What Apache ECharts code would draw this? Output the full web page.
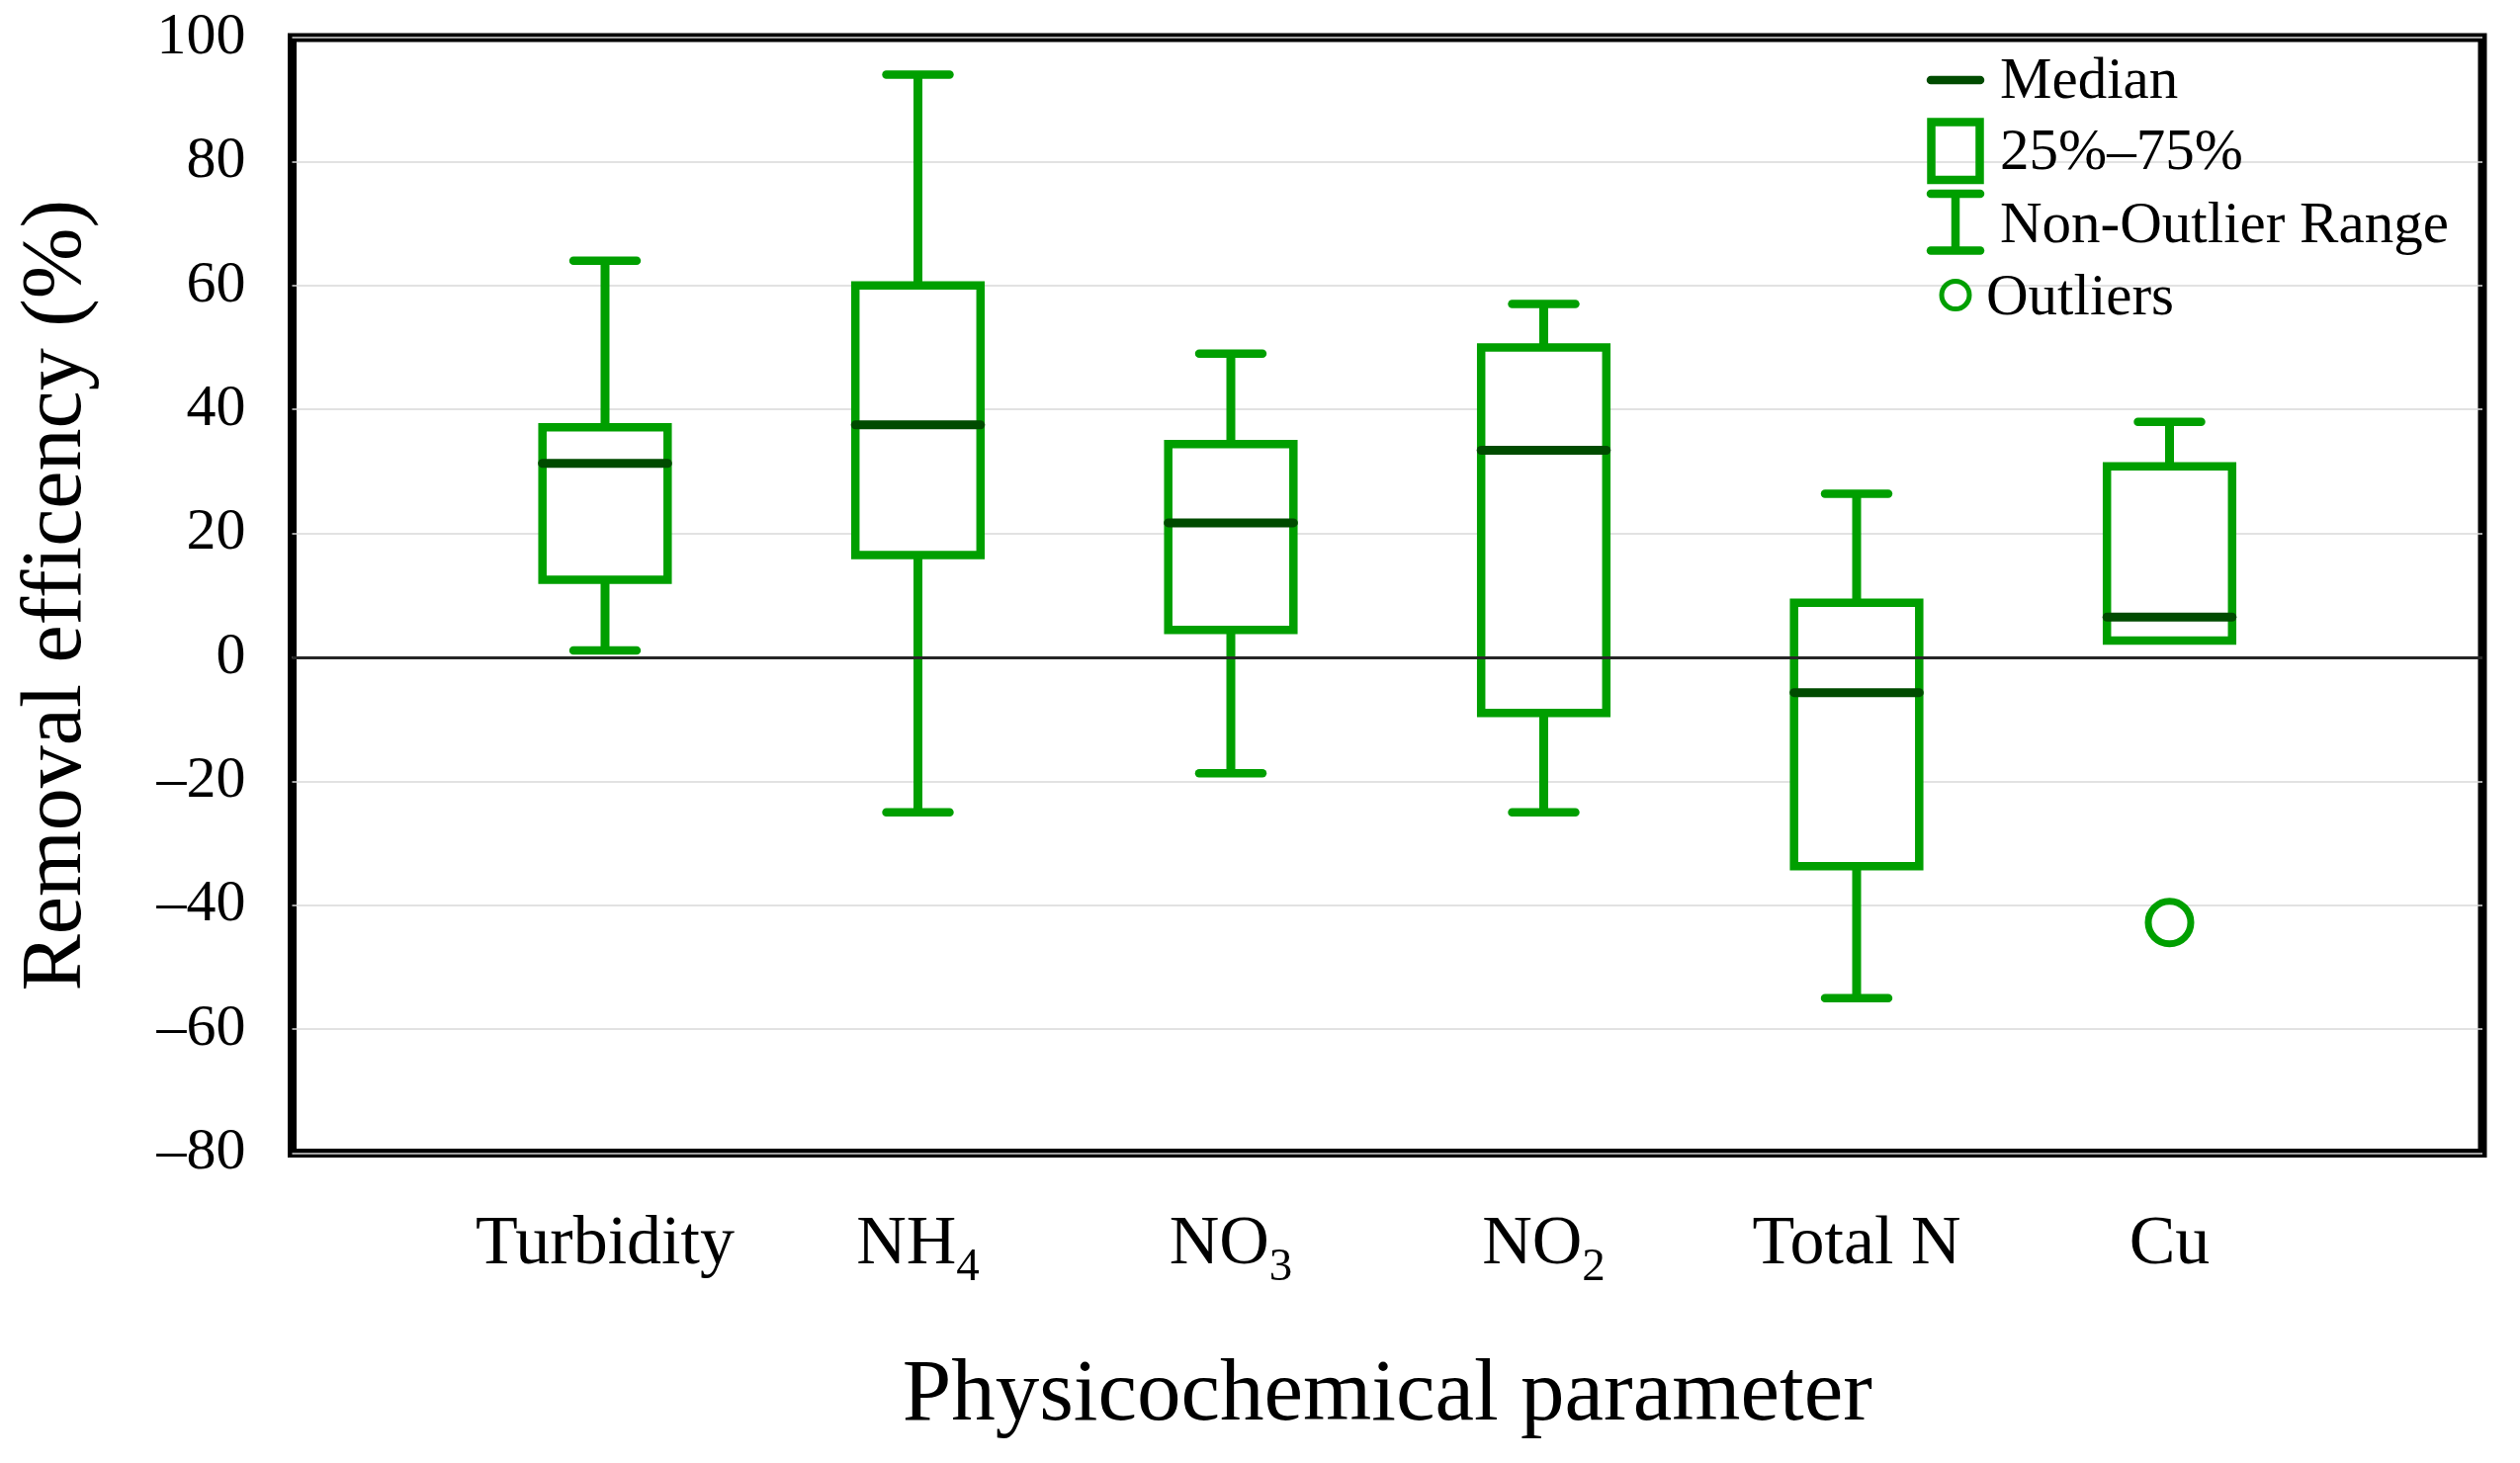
<!DOCTYPE html>
<html>
<head>
<meta charset="utf-8">
<script src="https://cdn.jsdelivr.net/npm/echarts@6/dist/echarts.min.js"></script>
<style>
html,body{margin:0;padding:0;background:#fff;}
#chart{width:2549px;height:1480px;}
</style>
</head>
<body>
<div id="chart"></div>
<script>
// ---- data ----
const categories = ['Turbidity', 'NH4', 'NO3', 'NO2', 'Total N', 'Cu'];
const whiskerLow  = [1.1, -25.0, -18.7, -25.0, -55.0, 2.7];
const q1          = [12.5, 16.5, 4.4, -9.0, -33.7, 2.7];
const median      = [31.3, 37.5, 21.7, 33.4, -5.7, 6.5];
const q3          = [37.1, 60.0, 34.4, 50.0, 8.8, 30.8];
const whiskerHigh = [64.0, 94.0, 49.0, 57.0, 26.4, 38.0];
const outlierCategories = ['Cu'];
const outlierValues = [-42.8];
const yTicks = { min: -80, max: 100, interval: 20 };

const GREEN = '#009f00';
const DARK = '#004b00';
const FONT = 'Liberation Serif';

const axisCats = [''].concat(categories, ['']);
const boxData = categories.map((c, i) => [i + 1, whiskerLow[i], q1[i], median[i], q3[i], whiskerHigh[i]]);
const outData = outlierCategories.map((c, i) => [categories.indexOf(c) + 1, outlierValues[i]]);

function renderBox(params, api) {
  const i = api.value(0);
  const x = api.coord([i, 0])[0];
  const band = api.coord([i + 1, 0])[0] - x;
  const hw = band * 0.2, cw = band * 0.101;
  const yLow = api.coord([i, api.value(1)])[1];
  const yQ1 = api.coord([i, api.value(2)])[1];
  const yMed = api.coord([i, api.value(3)])[1];
  const yQ3 = api.coord([i, api.value(4)])[1];
  const yHigh = api.coord([i, api.value(5)])[1];
  const wStyle = { stroke: GREEN, lineWidth: 9, lineCap: 'butt' };
  const capStyle = { stroke: GREEN, lineWidth: 8.5, lineCap: 'round' };
  const children = [];
  if (api.value(5) > api.value(4)) {
    children.push({ type: 'line', shape: { x1: x, y1: yQ3, x2: x, y2: yHigh }, style: wStyle });
    children.push({ type: 'line', shape: { x1: x - cw, y1: yHigh, x2: x + cw, y2: yHigh }, style: capStyle });
  }
  if (api.value(1) < api.value(2)) {
    children.push({ type: 'line', shape: { x1: x, y1: yQ1, x2: x, y2: yLow }, style: wStyle });
    children.push({ type: 'line', shape: { x1: x - cw, y1: yLow, x2: x + cw, y2: yLow }, style: capStyle });
  }
  children.push({ type: 'rect', shape: { x: x - hw, y: yQ3, width: 2 * hw, height: yQ1 - yQ3 },
    style: { fill: '#fff', stroke: GREEN, lineWidth: 8.5, lineJoin: 'miter' } });
  children.push({ type: 'line', shape: { x1: x - hw, y1: yMed, x2: x + hw, y2: yMed },
    style: { stroke: DARK, lineWidth: 9, lineCap: 'round' } });
  return { type: 'group', children: children };
}

const chart = echarts.init(document.getElementById('chart'), null, { renderer: 'canvas' });

const legendX = 1978;
const legendTextX = 2023;
const LFONT = '59px "Liberation Serif"';
const option = {
  backgroundColor: '#fff',
  animation: false,
  textStyle: { fontFamily: FONT, color: '#000' },
  grid: {
    left: 295.5, right: 38, top: 38, bottom: 313.5,
    show: true, borderColor: '#000', borderWidth: 9, backgroundColor: 'transparent',
    containLabel: false
  },
  xAxis: {
    type: 'category',
    data: axisCats,
    boundaryGap: false,
    axisLine: { show: false },
    axisTick: { show: false },
    splitLine: { show: false },
    axisLabel: {
      interval: 0,
      margin: 58,
      formatter: function (v) {
        if (!v) return '';
        const m = v.match(/^([A-Za-z]+?)(\d)$/);
        if (m) return '{a|' + m[1] + '}{s|' + m[2] + '}';
        return '{a|' + v + '}';
      },
      rich: {
        a: { fontFamily: FONT, fontSize: 70, color: '#000', lineHeight: 70, verticalAlign: 'middle' },
        s: { fontFamily: FONT, fontSize: 47, color: '#000', lineHeight: 1, height: 23, verticalAlign: 'bottom' }
      }
    },
    name: 'Physicochemical parameter',
    nameLocation: 'middle',
    nameGap: 202,
    nameMoveOverlap: false,
    nameTextStyle: { fontFamily: FONT, fontSize: 89, color: '#000', verticalAlign: 'top' }
  },
  yAxis: {
    type: 'value',
    min: yTicks.min, max: yTicks.max, interval: yTicks.interval,
    axisLine: { show: false },
    axisTick: { show: false },
    splitLine: { show: true, lineStyle: { color: '#d9d9d9', width: 1.5 } },
    axisLabel: {
      margin: 47,
      fontFamily: FONT, fontSize: 60, color: '#000',
      formatter: function (v) { return String(v).replace('-', '\u2013'); }
    },
    name: 'Removal efficency (%)',
    nameLocation: 'middle',
    nameRotate: 90,
    nameGap: 194,
    nameMoveOverlap: false,
    nameTextStyle: { fontFamily: FONT, fontSize: 86, color: '#000' }
  },
  series: [
    {
      type: 'line',
      data: [],
      z: 1,
      silent: true,
      markLine: {
        silent: true,
        symbol: ['none', 'none'],
        label: { show: false },
        lineStyle: { color: '#262626', width: 3, type: 'solid' },
        data: [{ yAxis: 0 }]
      }
    },
    {
      type: 'custom',
      z: 3,
      data: boxData,
      encode: { x: 0, y: [1, 2, 3, 4, 5] },
      renderItem: renderBox
    },
    {
      type: 'scatter',
      z: 4,
      data: outData,
      symbol: 'circle',
      symbolSize: 43,
      itemStyle: { color: '#fff', borderColor: GREEN, borderWidth: 7, opacity: 1 }
    }
  ],
  graphic: [
    { type: 'line', shape: { x1: 1953, y1: 81, x2: 2003, y2: 81 }, style: { stroke: DARK, lineWidth: 8.5, lineCap: 'round' }, z: 10 },
    { type: 'rect', shape: { x: 1953.5, y: 123.5, width: 49, height: 58.5 }, style: { fill: 'transparent', stroke: GREEN, lineWidth: 8.5 }, z: 10 },
    { type: 'line', shape: { x1: 1953, y1: 196, x2: 2003, y2: 196 }, style: { stroke: GREEN, lineWidth: 8.5, lineCap: 'round' }, z: 10 },
    { type: 'line', shape: { x1: 1953, y1: 253.5, x2: 2003, y2: 253.5 }, style: { stroke: GREEN, lineWidth: 8.5, lineCap: 'round' }, z: 10 },
    { type: 'line', shape: { x1: legendX, y1: 196, x2: legendX, y2: 253.5 }, style: { stroke: GREEN, lineWidth: 8.5 }, z: 10 },
    { type: 'circle', shape: { cx: legendX, cy: 298.5, r: 14 }, style: { fill: '#fff', stroke: GREEN, lineWidth: 5 }, z: 10 },
    { type: 'text', x: legendTextX, y: 83, style: { text: 'Median', font: LFONT, fill: '#000', verticalAlign: 'middle', align: 'left' }, z: 10 },
    { type: 'text', x: legendTextX, y: 155, style: { text: '25%\u201375%', font: LFONT, fill: '#000', verticalAlign: 'middle', align: 'left' }, z: 10 },
    { type: 'text', x: legendTextX, y: 229, style: { text: 'Non-Outlier Range', font: LFONT, fill: '#000', verticalAlign: 'middle', align: 'left' }, z: 10 },
    { type: 'text', x: 2009, y: 302, style: { text: 'Outliers', font: LFONT, fill: '#000', verticalAlign: 'middle', align: 'left' }, z: 10 }
  ]
};
chart.setOption(option);
</script>
</body>
</html>
